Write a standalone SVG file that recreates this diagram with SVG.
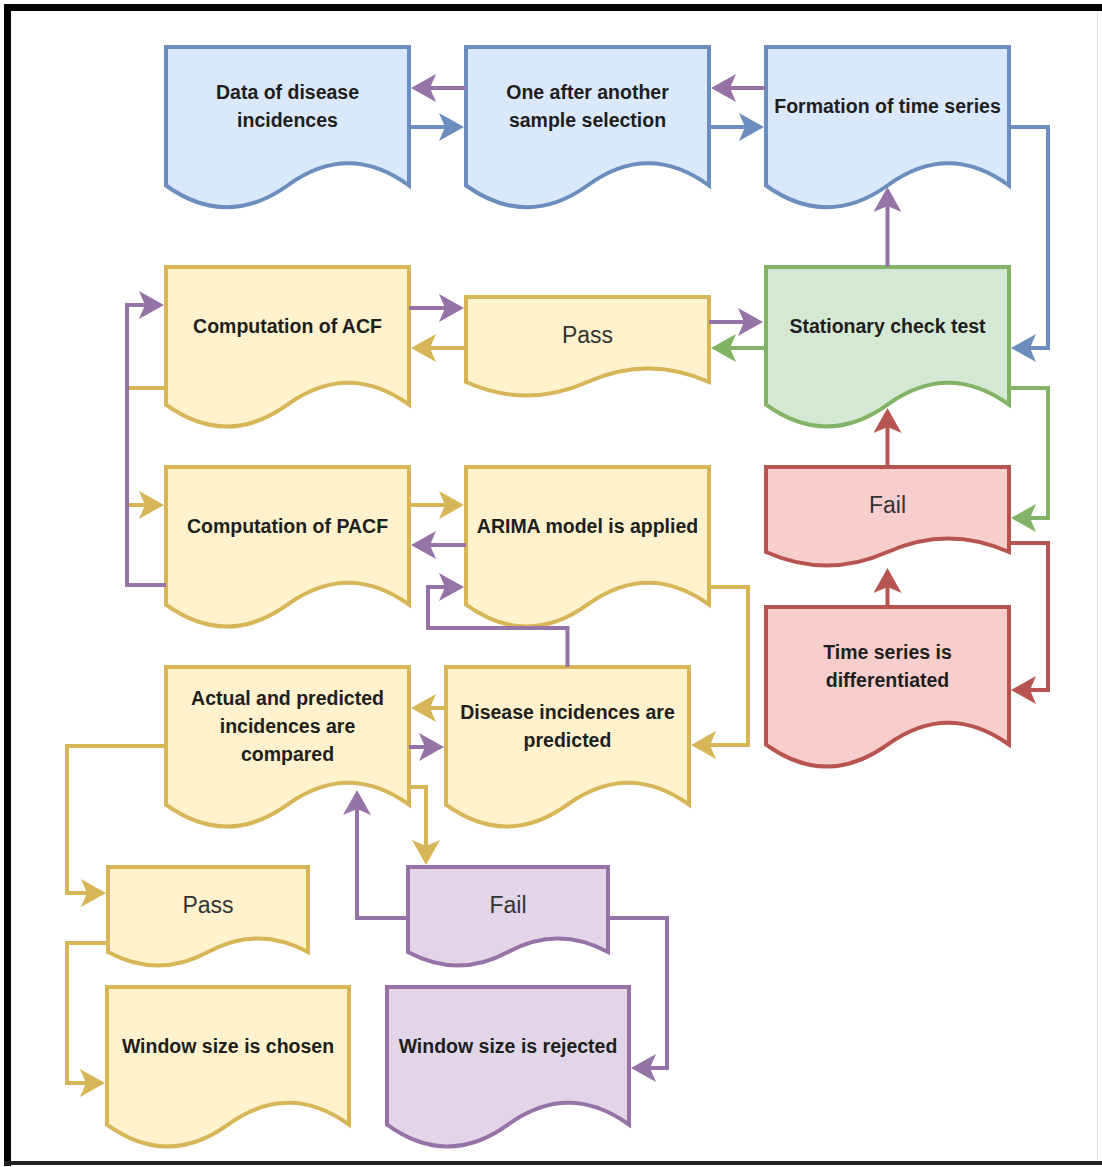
<svg xmlns="http://www.w3.org/2000/svg" width="1102" height="1167" viewBox="0 0 1102 1167">
<style>
.blue{fill:#dae8fc;stroke:#6c8ebf;stroke-width:4}
.yel{fill:#fff2cc;stroke:#d6b656;stroke-width:4}
.grn{fill:#d5e8d4;stroke:#82b366;stroke-width:4}
.red{fill:#f8cecc;stroke:#b85450;stroke-width:4}
.pur{fill:#e1d5e7;stroke:#9673a6;stroke-width:4}
.t{font-family:"Liberation Sans",Arial,Helvetica,sans-serif;font-weight:bold;font-size:19.5px;fill:#1e1e1e;text-anchor:middle}
.big{font-family:"Liberation Sans",Arial,Helvetica,sans-serif;font-size:23px;fill:#333;text-anchor:middle}
.c{fill:none;stroke-width:4}
.cp{stroke:#9673a6;marker-end:url(#ap)}
.cb{stroke:#6c8ebf;marker-end:url(#ab)}
.cy{stroke:#d6b656;marker-end:url(#ay)}
.cg{stroke:#82b366;marker-end:url(#ag)}
.cr{stroke:#b85450;marker-end:url(#ar)}
</style>
<defs>
<marker id="ap" markerUnits="userSpaceOnUse" markerWidth="25" markerHeight="28" viewBox="0 0 25 28" refX="9" refY="14" orient="auto"><path d="M25,14 L0,0 L6,14 L0,28 Z" fill="#9673a6"/></marker>
<marker id="ab" markerUnits="userSpaceOnUse" markerWidth="25" markerHeight="28" viewBox="0 0 25 28" refX="9" refY="14" orient="auto"><path d="M25,14 L0,0 L6,14 L0,28 Z" fill="#6c8ebf"/></marker>
<marker id="ay" markerUnits="userSpaceOnUse" markerWidth="25" markerHeight="28" viewBox="0 0 25 28" refX="9" refY="14" orient="auto"><path d="M25,14 L0,0 L6,14 L0,28 Z" fill="#d6b656"/></marker>
<marker id="ag" markerUnits="userSpaceOnUse" markerWidth="25" markerHeight="28" viewBox="0 0 25 28" refX="9" refY="14" orient="auto"><path d="M25,14 L0,0 L6,14 L0,28 Z" fill="#82b366"/></marker>
<marker id="ar" markerUnits="userSpaceOnUse" markerWidth="25" markerHeight="28" viewBox="0 0 25 28" refX="9" refY="14" orient="auto"><path d="M25,14 L0,0 L6,14 L0,28 Z" fill="#b85450"/></marker>
</defs>
<rect width="1102" height="1167" fill="#fff"/>
<g id="frame">
<rect x="4" y="4" width="1098" height="7" fill="#000"/>
<rect x="4" y="4" width="7" height="1162" fill="#000"/>
<rect x="4" y="1161" width="1098" height="4" fill="#222"/>
<rect x="1097" y="11" width="1" height="1150" fill="#e4e4e4"/>
</g>

<g id="n-data"><path class="blue" d="M166,47 H409 V185.5 Q348.25,141 287.5,185.5 Q226.75,229 166,185.5 Z"/>
<text class="t" x="287.5" y="99">Data of disease</text><text class="t" x="287.5" y="127">incidences</text></g>
<g id="n-sample"><path class="blue" d="M466,47 H709 V185.5 Q648.25,141 587.5,185.5 Q526.75,229 466,185.5 Z"/>
<text class="t" x="587.5" y="99">One after another</text><text class="t" x="587.5" y="127">sample selection</text></g>
<g id="n-formation"><path class="blue" d="M766,47 H1009 V185.5 Q948.25,141 887.5,185.5 Q826.75,229 766,185.5 Z"/>
<text class="t" x="887.5" y="113">Formation of time series</text></g>

<g id="n-acf"><path class="yel" d="M166,267 H409 V404.7 Q348.25,360.96 287.5,404.7 Q226.75,448.44 166,404.7 Z"/>
<text class="t" x="287.5" y="333">Computation of ACF</text></g>
<g id="n-pass1"><path class="yel" d="M466,297 H709 V382 Q648.25,355 587.5,382 Q526.75,409 466,382 Z"/>
<text class="big" x="587.5" y="343">Pass</text></g>
<g id="n-stationary"><path class="grn" d="M766,267 H1009 V404.7 Q948.25,360.96 887.5,404.7 Q826.75,448.44 766,404.7 Z"/>
<text class="t" x="887.5" y="333">Stationary check test</text></g>

<g id="n-pacf"><path class="yel" d="M166,467 H409 V604.7 Q348.25,560.96 287.5,604.7 Q226.75,648.44 166,604.7 Z"/>
<text class="t" x="287.5" y="533">Computation of PACF</text></g>
<g id="n-arima"><path class="yel" d="M466,467 H709 V604.7 Q648.25,560.96 587.5,604.7 Q526.75,648.44 466,604.7 Z"/>
<text class="t" x="587.5" y="533">ARIMA model is applied</text></g>
<g id="n-fail1"><path class="red" d="M766,467 H1009 V552 Q948.25,525 887.5,552 Q826.75,579 766,552 Z"/>
<text class="big" x="887.5" y="513">Fail</text></g>

<g id="n-diff"><path class="red" d="M766,607 H1009 V744.7 Q948.25,700.96 887.5,744.7 Q826.75,788.44 766,744.7 Z"/>
<text class="t" x="887.5" y="659">Time series is</text><text class="t" x="887.5" y="687">differentiated</text></g>
<g id="n-compare"><path class="yel" d="M166,667 H409 V804.7 Q348.25,760.96 287.5,804.7 Q226.75,848.44 166,804.7 Z"/>
<text class="t" x="287.5" y="705">Actual and predicted</text><text class="t" x="287.5" y="733">incidences are</text><text class="t" x="287.5" y="761">compared</text></g>
<g id="n-predicted"><path class="yel" d="M446,667 H689 V804.7 Q628.25,760.96 567.5,804.7 Q506.75,848.44 446,804.7 Z"/>
<text class="t" x="567.5" y="719">Disease incidences are</text><text class="t" x="567.5" y="747">predicted</text></g>

<g id="n-pass2"><path class="yel" d="M108,867 H308 V952 Q258,925 208,952 Q158,979 108,952 Z"/>
<text class="big" x="208" y="913">Pass</text></g>
<g id="n-fail2"><path class="pur" d="M408,867 H608 V952 Q558,925 508,952 Q458,979 408,952 Z"/>
<text class="big" x="508" y="913">Fail</text></g>

<g id="n-chosen"><path class="yel" d="M107,987 H349 V1124.7 Q288.5,1080.96 228,1124.7 Q167.5,1168.44 107,1124.7 Z"/>
<text class="t" x="228" y="1053">Window size is chosen</text></g>
<g id="n-rejected"><path class="pur" d="M387,987 H629 V1124.7 Q568.5,1080.96 508,1124.7 Q447.5,1168.44 387,1124.7 Z"/>
<text class="t" x="508" y="1053">Window size is rejected</text></g>

<g id="connectors">
<path class="c cp" d="M466,88 H427"/>
<path class="c cb" d="M409,127 H448"/>
<path class="c cp" d="M766,88 H727"/>
<path class="c cb" d="M709,127 H748"/>
<path class="c cb" d="M1009,127 H1048 V348 H1027"/>
<path class="c cp" d="M887.5,267 V203"/>
<path class="c cp" d="M409,308 H448"/>
<path class="c cy" d="M466,348 H427"/>
<path class="c cp" d="M709,322 H747"/>
<path class="c cg" d="M766,348 H727"/>
<path class="c cg" d="M1009,388 H1048 V518 H1027"/>
<path class="c cr" d="M887.5,467 V424"/>
<path class="c cr" d="M1009,543 H1048 V690 H1027"/>
<path class="c cr" d="M887.5,607 V584"/>
<path class="c cy" d="M166,388 H127 V505 H148"/>
<path class="c cp" d="M166,585 H127 V305 H148"/>
<path class="c cy" d="M409,505 H448"/>
<path class="c cp" d="M466,545 H427"/>
<path class="c cp" d="M567.5,667 V628 H428 V587 H448"/>
<path class="c cy" d="M709,587 H748 V745 H707"/>
<path class="c cy" d="M446,708 H427"/>
<path class="c cp" d="M409,747 H428"/>
<path class="c cy" d="M409,787 H426 V849"/>
<path class="c cp" d="M408,918 H357 V806"/>
<path class="c cy" d="M166,746 H67 V893 H90"/>
<path class="c cy" d="M108,943 H67 V1083 H89"/>
<path class="c cp" d="M608,918 H667 V1068 H647"/>
</g>
</svg>
